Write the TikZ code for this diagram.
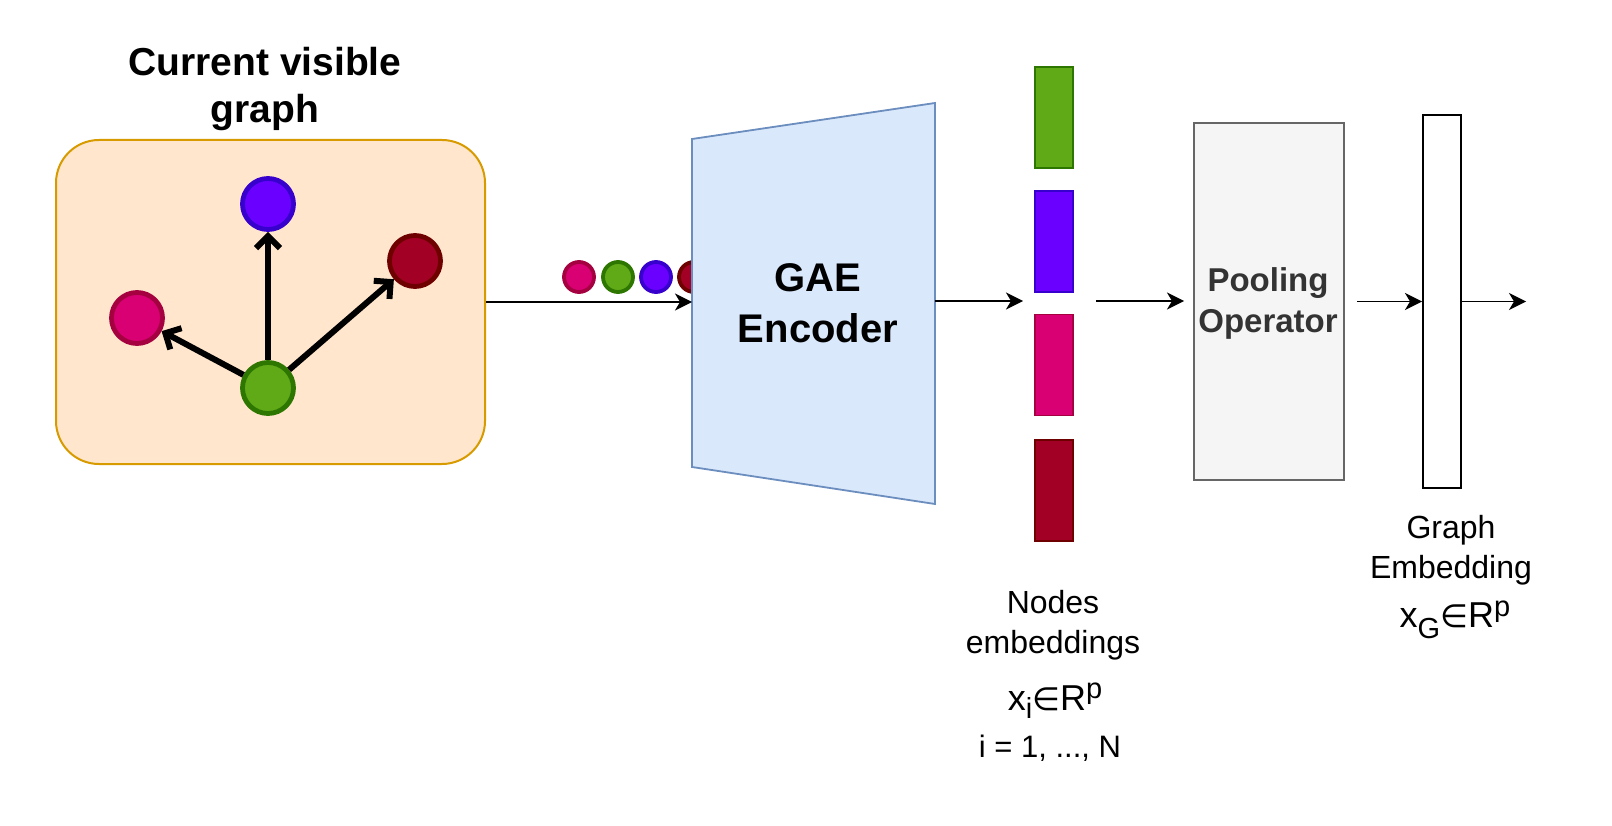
\documentclass[tikz,border=0pt]{standalone}
\usepackage{fontspec}
\setmainfont{Liberation Sans}
\newfontfamily\symfont{DejaVu Sans}
\usetikzlibrary{arrows.meta}
\definecolor{orF}{HTML}{FFE6CC}
\definecolor{orS}{HTML}{D79B00}
\definecolor{blF}{HTML}{6A00FF}
\definecolor{blS}{HTML}{3700CC}
\definecolor{rdF}{HTML}{A20025}
\definecolor{rdS}{HTML}{6F0000}
\definecolor{pkF}{HTML}{D80073}
\definecolor{pkS}{HTML}{A50040}
\definecolor{gnF}{HTML}{60A917}
\definecolor{gnS}{HTML}{2D7600}
\definecolor{encF}{HTML}{DAE8FC}
\definecolor{encS}{HTML}{6C8EBF}
\definecolor{poF}{HTML}{F5F5F5}
\definecolor{poS}{HTML}{666666}
\definecolor{poT}{HTML}{333333}
\newcommand{\lowsub}[2]{\raisebox{#1}{\fontsize{29}{29}\selectfont #2}}
\begin{document}
\begin{tikzpicture}[x=1pt,y=-1pt,
  gnode/.style={circle, minimum size=51pt, inner sep=0pt, line width=4.8pt},
  snode/.style={circle, minimum size=30pt, inner sep=0pt, line width=3.8pt},
  emb/.style={rectangle, minimum width=38pt, minimum height=101pt, inner sep=0pt, line width=1.5pt},
  garrow/.style={line width=6pt, -{Straight Barb[length=12pt,width=24pt,line width=6pt]}},
  flow/.style={line width=1.9pt, -{Stealth[length=17pt,width=17pt,inset=5pt]}},
  btitle/.style={anchor=base, font=\fontsize{39}{47}\selectfont\bfseries},
  lbl/.style={anchor=base, font=\fontsize{32}{38}\selectfont},
  math/.style={anchor=base, font=\fontsize{36}{42}\selectfont},
]
\useasboundingbox (0,0) rectangle (1612,826);

% title
\node[btitle] (t1) at (265,76) {Current visible};
\node[btitle] (t2) at (265,123) {graph};

% graph box
\node[draw=orS, fill=orF, line width=2pt, rounded corners=43pt,
      minimum width=429pt, minimum height=324pt, inner sep=0pt] (gbox) at (270.5,302) {};

\node[gnode, draw=blS, fill=blF] (nb) at (268,204) {};
\node[gnode, draw=rdS, fill=rdF] (nr) at (415,261) {};
\node[gnode, draw=pkS, fill=pkF] (np) at (137,318) {};
\node[gnode, draw=gnS, fill=gnF] (ng) at (268,388) {};
\draw[garrow] (ng) -- (nb);
\draw[garrow] (ng) -- (np);
\draw[garrow] (ng) -- (nr);

% small circles (under the encoder)
\node[snode, draw=pkS, fill=pkF] (s1) at (579,277) {};
\node[snode, draw=gnS, fill=gnF] (s2) at (618,277) {};
\node[snode, draw=blS, fill=blF] (s3) at (656,277) {};
\node[snode, draw=rdS, fill=rdF] (s4) at (694,277) {};

% encoder
\draw[fill=encF, draw=encS, line width=1.8pt]
  (692,139) -- (935,103) -- (935,504) -- (692,467) -- cycle;
\coordinate (encL) at (692,302);
\coordinate (encR) at (935,301);
\node[btitle, font=\fontsize{40}{48}\selectfont\bfseries] (enc1) at (818,292) {GAE};
\node[btitle, font=\fontsize{40}{48}\selectfont\bfseries] (enc2) at (818,342) {Encoder};

\draw[flow] (gbox.east) -- (encL);

% node embeddings
\node[emb, draw=gnS, fill=gnF] (e1) at (1054,117.5) {};
\node[emb, draw=blS, fill=blF] (e2) at (1054,241.5) {};
\node[emb, draw=pkS, fill=pkF] (e3) at (1054,365) {};
\node[emb, draw=rdS, fill=rdF] (e4) at (1054,490.5) {};

\coordinate (a2e) at (1023,301);
\draw[flow] (encR) -- (a2e);

% pooling
\node[draw=poS, fill=poF, line width=2pt, minimum width=150pt, minimum height=357pt, inner sep=0pt] (pool) at (1269,301.5) {};
\node[anchor=base, text=poT, font=\fontsize{33}{40}\selectfont\bfseries] (pl1) at (1268,292) {Pooling};
\node[anchor=base, text=poT, font=\fontsize{33}{40}\selectfont\bfseries] (pl2) at (1268,333) {Operator};

\coordinate (a3s) at (1096,301);
\coordinate (a3e) at (1184,301);
\draw[flow] (a3s) -- (a3e);

% graph embedding
\node[draw=black, fill=white, line width=2pt, minimum width=38pt, minimum height=373pt, inner sep=0pt] (gemb) at (1442,301.5) {};
\coordinate (a4s) at (1357,301.5);
\draw[flow] (a4s) -- (gemb.west);
\coordinate (a5e) at (1526,301.5);
\draw[flow] (gemb.east) -- (a5e);

% labels
\node[lbl] (n1) at (1053,613) {Nodes};
\node[lbl] (n2) at (1053,653) {embeddings};
\node[math] (n3) at (1055,710)
  {x\lowsub{-8pt}{i}{\symfont\fontsize{32}{32}\selectfont ∈}R\lowsub{12pt}{p}};
\node[anchor=base, font=\fontsize{31}{37}\selectfont] (n4) at (1050,757) {i = 1, ..., N};

\node[lbl] (g1) at (1451,538) {Graph};
\node[lbl] (g2) at (1451,578) {Embedding};
\node[math] (g3) at (1455,627)
  {x\lowsub{-11pt}{G}{\symfont\fontsize{32}{32}\selectfont ∈}R\lowsub{11pt}{p}};
\end{tikzpicture}
\end{document}
